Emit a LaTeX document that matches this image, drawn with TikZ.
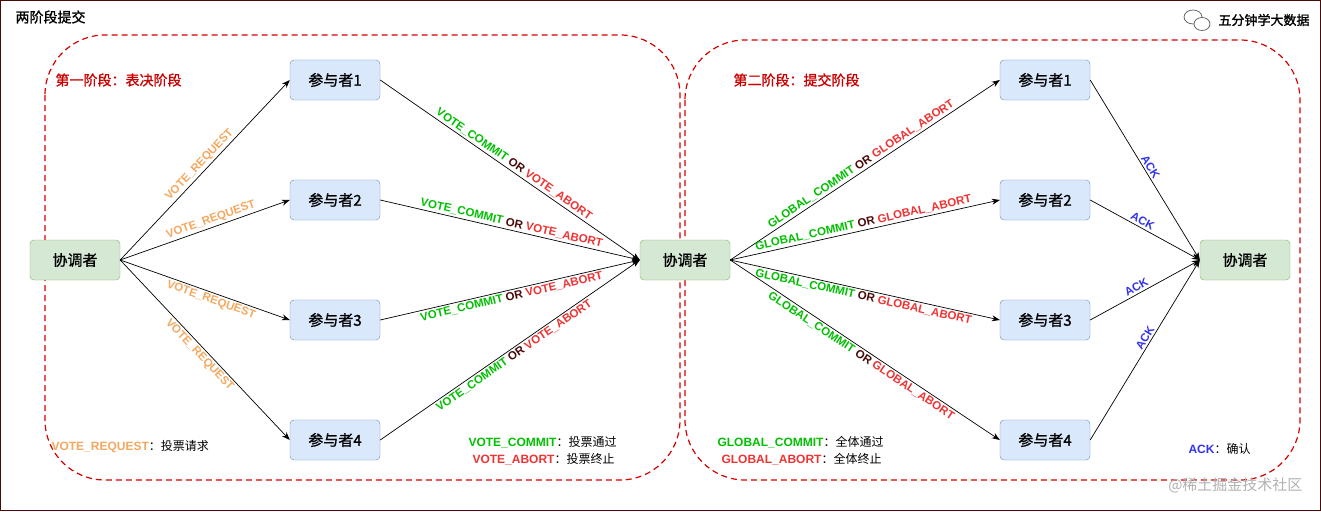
\documentclass[tikz,border=0pt]{standalone}
\usepackage{fontspec}
\setmainfont{Liberation Sans}
\newfontfamily\cjk{Noto Sans CJK SC}
\newfontfamily\cjkb[FakeBold=1.2]{Noto Sans CJK SC}
\usetikzlibrary{arrows.meta}
\definecolor{grn}{HTML}{00C000}
\definecolor{rd}{HTML}{EE3333}
\definecolor{orn}{HTML}{F5A860}
\definecolor{ack}{HTML}{3333EE}
\definecolor{orc}{HTML}{4A0A0A}
\definecolor{pfill}{HTML}{DAE8FC}
\definecolor{pdraw}{HTML}{6C8EBF}
\definecolor{cfill}{HTML}{D5E8D4}
\definecolor{cdraw}{HTML}{82B366}
\tikzset{
 part/.style={draw=pdraw,fill=pfill,rounded corners=4pt,minimum width=90pt,minimum height=40pt,font=\cjkb\fontsize{15}{17}\selectfont},
 coord/.style={draw=cdraw,fill=cfill,rounded corners=4pt,minimum width=90pt,minimum height=40pt,font=\cjkb\fontsize{15}{17}\selectfont},
 arr/.style={-{Stealth[length=8pt,width=6pt]},line width=0.7pt},
 lab/.style={font=\bfseries\fontsize{11.5}{12}\selectfont,sloped,inner sep=2pt},
 phase/.style={draw=red!85!black,dashed,line width=1.2pt,dash pattern=on 6pt off 4pt,rounded corners=60pt},
}
\newcommand{\vc}{\textcolor{grn}{VOTE\_COMMIT} \textcolor{orc}{OR} \textcolor{rd}{VOTE\_ABORT}}
\newcommand{\gc}{\textcolor{grn}{GLOBAL\_COMMIT} \textcolor{orc}{OR} \textcolor{rd}{GLOBAL\_ABORT}}
\begin{document}
\begin{tikzpicture}[x=1pt,y=-1pt]
\draw[orc,line width=1pt,fill=white] (0.5,0.5) rectangle (1320.5,510.5);
\node[anchor=west,font=\cjkb\fontsize{14}{16}\selectfont] (title) at (12,17) {两阶段提交};
\node[anchor=east,font=\cjkb\fontsize{13}{15}\selectfont] (brand) at (1313,20) {五分钟学大数据};
\draw[gray!70!black,line width=0.7pt] (1193,17) ellipse (9pt and 7pt);
\draw[gray!70!black,line width=0.7pt,fill=white] (1202,24) ellipse (8pt and 6.5pt);
\draw[phase] (45,35) rectangle (680,480);
\draw[phase] (685,40) rectangle (1300,480);
\node[anchor=west,text=red!80!black,font=\cjkb\fontsize{14}{16}\selectfont] (ph1) at (52,80) {第一阶段：表决阶段};
\node[anchor=west,text=red!80!black,font=\cjkb\fontsize{14}{16}\selectfont] (ph2) at (730,80) {第二阶段：提交阶段};

\node[coord] (c1) at (75,260) {协调者};
\node[coord] (c2) at (685,260) {协调者};
\node[coord] (c3) at (1245,260) {协调者};
\foreach \i/\y in {1/80,2/200,3/320,4/440}{
 \node[part] (a\i) at (335,\y) {参与者\i};
 \node[part] (b\i) at (1045,\y) {参与者\i};
}
% phase 1
\draw[arr] (c1.east) -- node[lab,above,pos=0.5,text=orn]{VOTE\_REQUEST} (a1.west);
\draw[arr] (c1.east) -- node[lab,above,pos=0.55,text=orn]{VOTE\_REQUEST} (a2.west);
\draw[arr] (c1.east) -- node[lab,below,pos=0.55,text=orn]{VOTE\_REQUEST} (a3.west);
\draw[arr] (c1.east) -- node[lab,below,pos=0.5,text=orn]{VOTE\_REQUEST} (a4.west);
\draw[arr] (a1.east) -- node[lab,above,pos=0.5]{\vc} (c2.west);
\draw[arr] (a2.east) -- node[lab,above,pos=0.5]{\vc} (c2.west);
\draw[arr] (a3.east) -- node[lab,below,pos=0.5]{\vc} (c2.west);
\draw[arr] (a4.east) -- node[lab,below,pos=0.5]{\vc} (c2.west);
% phase 2
\draw[arr] (c2.east) -- node[lab,above,pos=0.5]{\gc} (b1.west);
\draw[arr] (c2.east) -- node[lab,above,pos=0.5]{\gc} (b2.west);
\draw[arr] (c2.east) -- node[lab,below,pos=0.5]{\gc} (b3.west);
\draw[arr] (c2.east) -- node[lab,below,pos=0.5]{\gc} (b4.west);
\draw[arr] (b1.east) -- node[lab,above,pos=0.5,text=ack]{ACK} (c3.west);
\draw[arr] (b2.east) -- node[lab,above,pos=0.45,text=ack]{ACK} (c3.west);
\draw[arr] (b3.east) -- node[lab,above,pos=0.45,text=ack]{ACK} (c3.west);
\draw[arr] (b4.east) -- node[lab,above,pos=0.55,text=ack]{ACK} (c3.west);
% legends
\node[anchor=west,font=\fontsize{12}{13}\selectfont] (l1) at (48,447) {\textbf{\textcolor{orn}{VOTE\_REQUEST}}{\cjk：投票请求}};
\node[anchor=west,font=\fontsize{12}{13}\selectfont] (l2) at (465,442) {\textbf{\textcolor{grn}{VOTE\_COMMIT}}{\cjk：投票通过}};
\node[anchor=west,font=\fontsize{12}{13}\selectfont] (l3) at (469,459) {\textbf{\textcolor{rd}{VOTE\_ABORT}}{\cjk：投票终止}};
\node[anchor=west,font=\fontsize{12}{13}\selectfont] (l4) at (714,442) {\textbf{\textcolor{grn}{GLOBAL\_COMMIT}}{\cjk：全体通过}};
\node[anchor=west,font=\fontsize{12}{13}\selectfont] (l5) at (718,459) {\textbf{\textcolor{rd}{GLOBAL\_ABORT}}{\cjk：全体终止}};
\node[anchor=west,font=\fontsize{12}{13}\selectfont] (l6) at (1185,449) {\textbf{\textcolor{ack}{ACK}}{\cjk：确认}};
\node[anchor=east,text=gray!60,font=\cjk\fontsize{15}{17}\selectfont] (wm) at (1306,485) {@稀土掘金技术社区};
\end{tikzpicture}
\end{document}
